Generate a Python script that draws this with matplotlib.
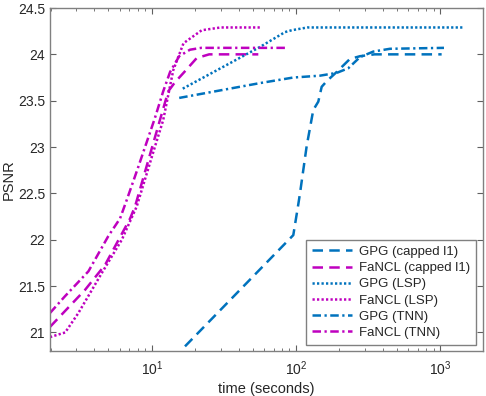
import matplotlib
matplotlib.use('Agg')
import matplotlib.pyplot as plt

plt.rcParams['font.family'] = ['Liberation Sans', 'DejaVu Sans']

BLUE = '#0072BD'
MAG = '#BF00BF'

# GPG (capped l1)
gpg_cap_t = [17.0, 95.8, 103.7, 106.6, 118.6, 131.8, 142.8, 150.7, 163.2, 191.5, 236.4, 277.7, 350, 1023]
gpg_cap_v = [20.85, 22.05, 22.38, 22.50, 23.01, 23.40, 23.49, 23.65, 23.71, 23.81, 23.95, 23.98, 24.00, 24.00]

# FaNCL (capped l1)
fan_cap_t = [1.97, 2.5, 3.45, 4.75, 7.08, 7.66, 10.5, 13.0, 14.5, 16.6, 20.5, 25, 54.8]
fan_cap_v = [21.06, 21.23, 21.46, 21.73, 22.23, 22.36, 23.10, 23.60, 23.70, 23.80, 23.96, 24.00, 24.00]

# GPG (LSP)
gpg_lsp_t = [16.4, 30, 56.3, 83.9, 93.3, 120, 1436]
gpg_lsp_v = [23.63, 23.85, 24.08, 24.24, 24.26, 24.29, 24.29]

# FaNCL (LSP)
fan_lsp_t = [1.97, 2.51, 3.10, 4.50, 6.20, 7.87, 10.5, 12.0, 14.1, 16.6, 22.2, 30, 57]
fan_lsp_v = [20.95, 21.00, 21.21, 21.64, 22.00, 22.36, 23.00, 23.29, 23.83, 24.12, 24.26, 24.29, 24.29]

# GPG (TNN)
gpg_tnn_t = [15.5, 56.3, 95.8, 146.7, 191.5, 230.4, 277.7, 343.5, 448, 1062]
gpg_tnn_v = [23.53, 23.69, 23.75, 23.77, 23.80, 23.85, 23.97, 24.03, 24.06, 24.07]

# FaNCL (TNN)
fan_tnn_t = [1.97, 2.5, 3.64, 5.0, 6.03, 6.71, 8.0, 10.5, 12.0, 13.4, 15.5, 18.4, 22, 40, 87]
fan_tnn_v = [21.21, 21.39, 21.66, 22.04, 22.23, 22.43, 22.77, 23.31, 23.60, 23.81, 23.98, 24.05, 24.07, 24.07, 24.07]

y_ticks = [21, 21.5, 22, 22.5, 23, 23.5, 24, 24.5]
y_labels = ['21', '21.5', '22', '22.5', '23', '23.5', '24', '24.5']

fig = plt.figure(figsize=(4.86, 3.96), dpi=100)
ax = fig.add_axes([50 / 486, 45 / 396, 433 / 486, 343 / 396])

lw = 1.8
dash = (4.2, 2.5)
dot = (0.9, 0.9)
dashdot = (3.4, 1.4, 0.9, 1.4)

ax.plot(gpg_cap_t, gpg_cap_v, color=BLUE, lw=lw, dashes=dash, label='GPG (capped l1)')
ax.plot(fan_cap_t, fan_cap_v, color=MAG, lw=lw, dashes=dash, label='FaNCL (capped l1)')
ax.plot(gpg_lsp_t, gpg_lsp_v, color=BLUE, lw=lw, dashes=dot, label='GPG (LSP)')
ax.plot(fan_lsp_t, fan_lsp_v, color=MAG, lw=lw, dashes=dot, label='FaNCL (LSP)')
ax.plot(gpg_tnn_t, gpg_tnn_v, color=BLUE, lw=lw, dashes=dashdot, label='GPG (TNN)')
ax.plot(fan_tnn_t, fan_tnn_v, color=MAG, lw=lw, dashes=dashdot, label='FaNCL (TNN)')

ax.set_xscale('log')
ax.set_xlim(1.97, 1980)
ax.set_ylim(20.8, 24.5)
ax.set_yticks(y_ticks)
ax.set_yticklabels(y_labels)

for s in ax.spines.values():
    s.set_color('#808080')
    s.set_linewidth(1.0)
ax.tick_params(which='both', direction='in', top=True, right=True,
               color='#606060', labelcolor='#262626', labelsize=10)
ax.tick_params(which='major', length=4)
ax.tick_params(which='minor', length=2.5)
ax.tick_params(axis='x', which='both', pad=6)

ax.set_xlabel('time (seconds)', fontsize=10.5, color='#262626', labelpad=3)
ax.set_ylabel('PSNR', fontsize=10.5, color='#262626', labelpad=1.5)

leg = ax.legend(loc='lower right', bbox_to_anchor=(0.984, 0.0175), fontsize=9.5,
                fancybox=False, framealpha=1, edgecolor='#808080',
                handlelength=3.05, handletextpad=0.5, labelspacing=0.3,
                borderpad=0.45, borderaxespad=0)
leg.get_frame().set_linewidth(1.0)
for t in leg.get_texts():
    t.set_color('#262626')

fig.savefig('out.png', dpi=100)
